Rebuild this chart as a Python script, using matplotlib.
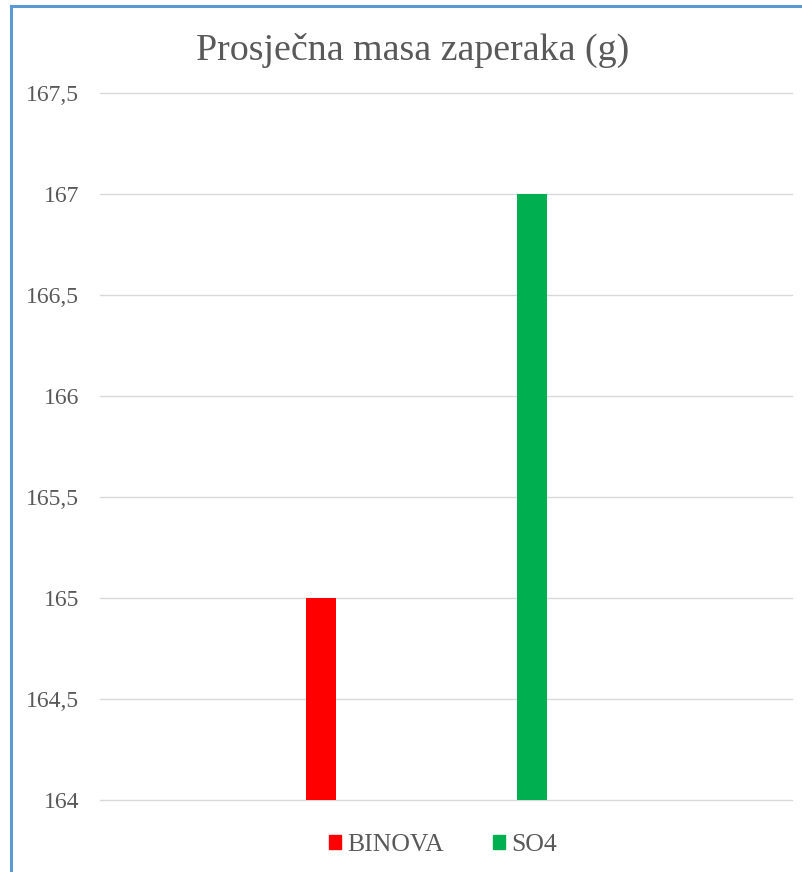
import matplotlib
matplotlib.use("Agg")
import matplotlib.pyplot as plt
import matplotlib.patches as mpatches
from matplotlib.ticker import FuncFormatter

title = "Prosječna masa zaperaka (g)"
series = ["BINOVA", "SO4"]
values = [165, 167]
colors = ["#ff0000", "#00b050"]
yticks = [164, 164.5, 165, 165.5, 166, 166.5, 167, 167.5]

plt.rcParams['font.family'] = ['Liberation Serif', 'DejaVu Serif']

W, H = 803, 872
fig = plt.figure(figsize=(W / 100, H / 100), dpi=100)

# chart border (left and top visible in the crop)
fig.add_artist(plt.Line2D([11.5 / W, 11.5 / W], [0, 1 - 6 / H], color="#5b9bd5", lw=2.2))
fig.add_artist(plt.Line2D([11.5 / W, 1], [1 - 6.5 / H, 1 - 6.5 / H], color="#5b9bd5", lw=2.2))

ax = fig.add_axes([100 / W, (H - 800) / H, 692 / W, 707 / H])

xs = [0, 1]
ax.bar(xs, values, width=0.142, color=colors, zorder=3)
ax.set_ylim(164, 167.5)
ax.set_xlim(-1.047, 2.232)
ax.set_yticks(yticks)
ax.yaxis.set_major_formatter(FuncFormatter(lambda v, p: ("%g" % v).replace(".", ",")))
ax.grid(axis="y", color="#d9d9d9", lw=1, zorder=0)
for gl in ax.get_ygridlines():
    gl.set_clip_on(False)
ax.set_xticks([])
for s in ax.spines.values():
    s.set_visible(False)
ax.tick_params(axis="y", length=0, pad=15, labelsize=17, labelcolor="#595959")

fig.text(413 / W, 1 - 50 / H, title, ha="center", va="center", fontsize=27.3, color="#595959")

handles = [mpatches.Patch(color=c, label=s) for s, c in zip(series, colors)]
fig.legend(handles=handles, loc="center", bbox_to_anchor=(443 / W, 1 - 845 / H), ncol=2,
           frameon=False, fontsize=18.5, labelcolor="#595959", handlelength=0.47, handleheight=0.47,
           handletextpad=0.25, columnspacing=1.9)

fig.savefig("out.png", dpi=100, facecolor="white")
